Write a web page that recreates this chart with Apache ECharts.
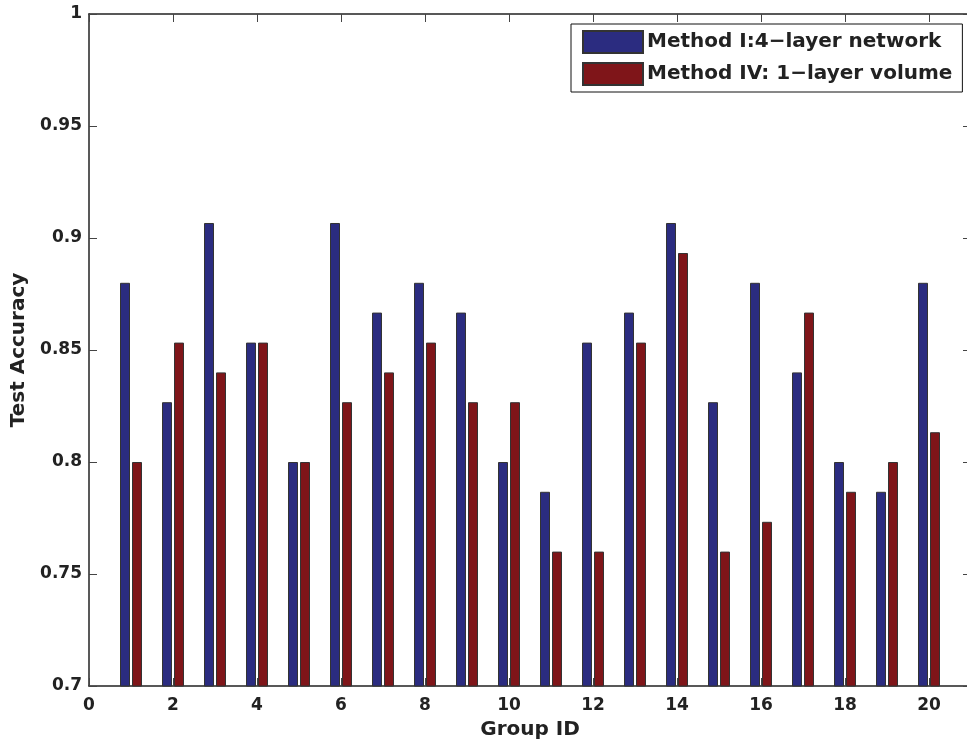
<!DOCTYPE html>
<html>
<head>
<meta charset="utf-8">
<script src="https://cdn.jsdelivr.net/npm/echarts@6/dist/echarts.min.js"></script>
<style>
  html, body { margin: 0; padding: 0; background: #fff; }
  #chart { width: 967px; height: 746px; }
</style>
</head>
<body>
<div id="chart"></div>
<script>
const groups = [1, 2, 3, 4, 5, 6, 7, 8, 9, 10, 11, 12, 13, 14, 15, 16, 17, 18, 19, 20]
const method1 = [0.88, 0.8267, 0.9067, 0.8533, 0.80, 0.9067, 0.8667, 0.88, 0.8667, 0.80,
  0.7867, 0.8533, 0.8667, 0.9067, 0.8267, 0.88, 0.84, 0.80, 0.7867, 0.88]
const method4 = [0.80, 0.8533, 0.84, 0.8533, 0.80, 0.8267, 0.84, 0.8533, 0.8267, 0.8267,
  0.76, 0.76, 0.8533, 0.8933, 0.76, 0.7733, 0.8667, 0.7867, 0.80, 0.8133]
const seriesNames = ['Method I:4\u2212layer network', 'Method IV: 1\u2212layer volume']

const font = '"DejaVu Sans", Verdana, sans-serif'
const labelStyle = { color: '#222', fontFamily: font, fontWeight: 'bold', fontSize: 17 }
const titleStyle = { color: '#222', fontFamily: font, fontWeight: 'bold', fontSize: 20 }

const chart = echarts.init(document.getElementById('chart'))

function tick() {
  return { show: true, inside: true, length: 8, lineStyle: { color: '#444', width: 1 } }
}
function line() {
  return { show: true, onZero: false, lineStyle: { color: '#222', width: 1.5 } }
}

chart.setOption({
  animation: false,
  grid: { left: 89, top: 14, width: 882, height: 672, outerBoundsMode: 'none', containLabel: false },
  legend: {
    orient: 'vertical',
    left: 571, top: 24,
    padding: [6, 10, 6, 11],
    itemWidth: 60, itemHeight: 22, itemGap: 8,
    icon: 'rect',
    backgroundColor: '#fff',
    borderColor: '#111', borderWidth: 1, borderRadius: 0,
    textStyle: { color: '#222', fontFamily: font, fontWeight: 'bold', fontSize: 20, padding: [0, 0, 0, -1] },
    data: seriesNames,
  },
  xAxis: [
    {
      type: 'value', min: 0, max: 21, interval: 2, position: 'bottom',
      axisLine: line(), axisTick: tick(), splitLine: { show: false },
      name: 'Group ID', nameLocation: 'middle', nameGap: 34, nameTextStyle: titleStyle,
      axisLabel: Object.assign({ margin: 11, showMaxLabel: false }, labelStyle),
    },
    {
      type: 'value', min: 0, max: 21, interval: 2, position: 'top',
      axisLine: line(), axisTick: tick(), splitLine: { show: false },
      axisLabel: { show: false },
    },
  ],
  yAxis: [
    {
      type: 'value', min: 0.7, max: 1, interval: 0.05, position: 'left',
      axisLine: line(), axisTick: tick(), splitLine: { show: false },
      name: 'Test Accuracy', nameLocation: 'middle', nameGap: 59, nameTextStyle: titleStyle,
      axisLabel: Object.assign({ margin: 7 }, labelStyle),
    },
    {
      type: 'value', min: 0.7, max: 1, interval: 0.05, position: 'right',
      axisLine: line(), axisTick: tick(), splitLine: { show: false },
      axisLabel: { show: false },
    },
  ],
  series: [
    {
      name: seriesNames[0], type: 'bar',
      data: groups.map((g, i) => [g, method1[i]]),
      barWidth: 10, barGap: '20%',
      itemStyle: { color: '#2b2c80', borderColor: '#333', borderWidth: 1 },
    },
    {
      name: seriesNames[1], type: 'bar',
      data: groups.map((g, i) => [g, method4[i]]),
      barWidth: 10, barGap: '20%',
      itemStyle: { color: '#7f1519', borderColor: '#333', borderWidth: 1 },
    },
  ],
})
</script>
</body>
</html>
